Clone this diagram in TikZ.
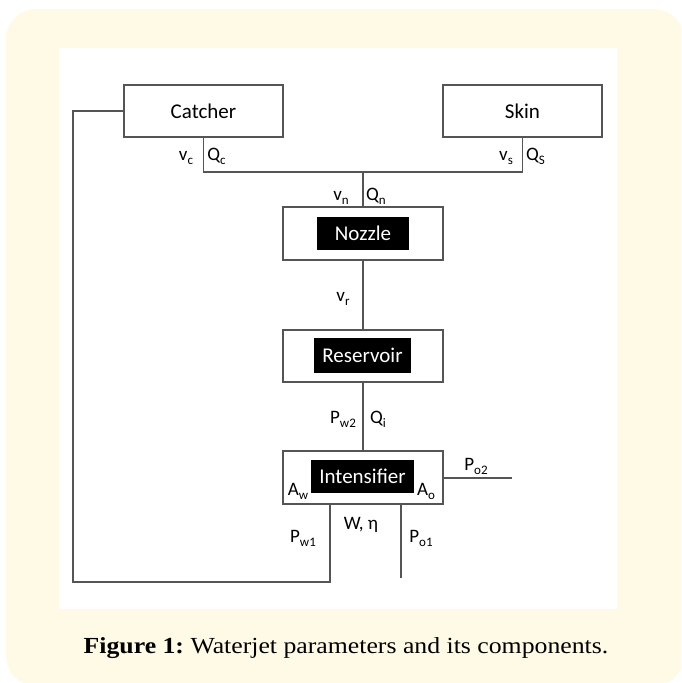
\documentclass[tikz,border=0pt]{standalone}
\usepackage{fontspec}
\setmainfont{Carlito}
\newfontfamily\capfont[FakeStretch=1.12]{Liberation Serif}
\definecolor{panel}{RGB}{255,250,230}
\definecolor{ln}{RGB}{85,85,85}
\newcommand{\lbl}[2]{#1\raisebox{-0.22em}{\fontsize{13}{13}\selectfont #2}}
\begin{document}
\begin{tikzpicture}[x=1pt,y=-1pt,
  box/.style={draw=ln,line width=1.5pt,minimum width=159pt,minimum height=52pt,inner sep=0pt,font=\fontsize{21}{25}\selectfont},
  blk/.style={fill=black,text=white,inner sep=0pt,font=\fontsize{21}{25}\selectfont},
  conn/.style={draw=ln,line width=1.5pt},
  lab/.style={anchor=base,inner sep=0pt,font=\fontsize{19}{22}\selectfont}]
\useasboundingbox (0,0) rectangle (681,683);
\clip (0,0) rectangle (681,683);
\fill[panel,rounded corners=30pt] (6,9) rectangle (684,686);
\fill[white] (59,48) rectangle (617,609);
% boxes
\node[box] (catcher) at (203.5,111) {Catcher};
\node[box] (skin) at (522.5,111) {Skin};
\node[box,minimum width=160pt,minimum height=53pt] (nozzle) at (363,233.5) {};
\node[blk,minimum width=92pt,minimum height=33pt] (nozzlet) at (363,233.5) {Nozzle};
\node[box,minimum width=160pt] (res) at (363,356) {};
\node[blk,minimum width=97pt,minimum height=35pt] (rest) at (362.5,355.5) {Reservoir};
\node[box,minimum width=160pt,minimum height=53pt] (int) at (363,477.5) {};
\node[blk,minimum width=103pt,minimum height=33pt] (intt) at (362.5,476.5) {Intensifier};
% connectors
\coordinate (j) at (363,172);
\draw[conn] (catcher.south) |- (j) -| (skin.south);
\draw[conn] (j) -- (nozzle.north);
\draw[conn] (nozzle) -- (res);
\draw[conn] (res) -- (int);
\coordinate (po2) at (512,478);
\draw[conn] (int.east |- po2) -- (po2);
\coordinate (wl) at (330,582);
\coordinate (wc) at (73,582);
\draw[conn] (int.south -| wl) -- (wl) -- (wc) |- (catcher.west);
\coordinate (po1) at (401,578);
\draw[conn] (int.south -| po1) -- (po1);
% labels
\node[lab] (lvc) at (186,160) {\lbl{v}{c}};
\node[lab] (lqc) at (216.5,160) {\lbl{Q}{c}};
\node[lab] (lvs) at (506,160) {\lbl{v}{s}};
\node[lab] (lqs) at (535.5,160) {\lbl{Q}{S}};
\node[lab] (lvn) at (341,200) {\lbl{v}{n}};
\node[lab] (lqn) at (376,200) {\lbl{Q}{n}};
\node[lab] (lvr) at (343,301) {\lbl{v}{r}};
\node[lab] (lpw2) at (343,423) {\lbl{P}{w2}};
\node[lab] (lqi) at (378,423) {\lbl{Q}{i}};
\node[lab] (law) at (298,495) {\lbl{A}{w}};
\node[lab] (lao) at (426,495) {\lbl{A}{o}};
\node[lab] (lpo2) at (476,470) {\lbl{P}{o2}};
\node[lab] (lw) at (361,529) {W, η};
\node[lab] (lpw1) at (303,542) {\lbl{P}{w1}};
\node[lab] (lpo1) at (421,542) {\lbl{P}{o1}};
% caption
\node[anchor=base,inner sep=0pt,font=\capfont\fontsize{23}{27}\selectfont] (cap) at (346,653) {\textbf{Figure 1:}~Waterjet parameters and its components.};
\end{tikzpicture}
\end{document}
